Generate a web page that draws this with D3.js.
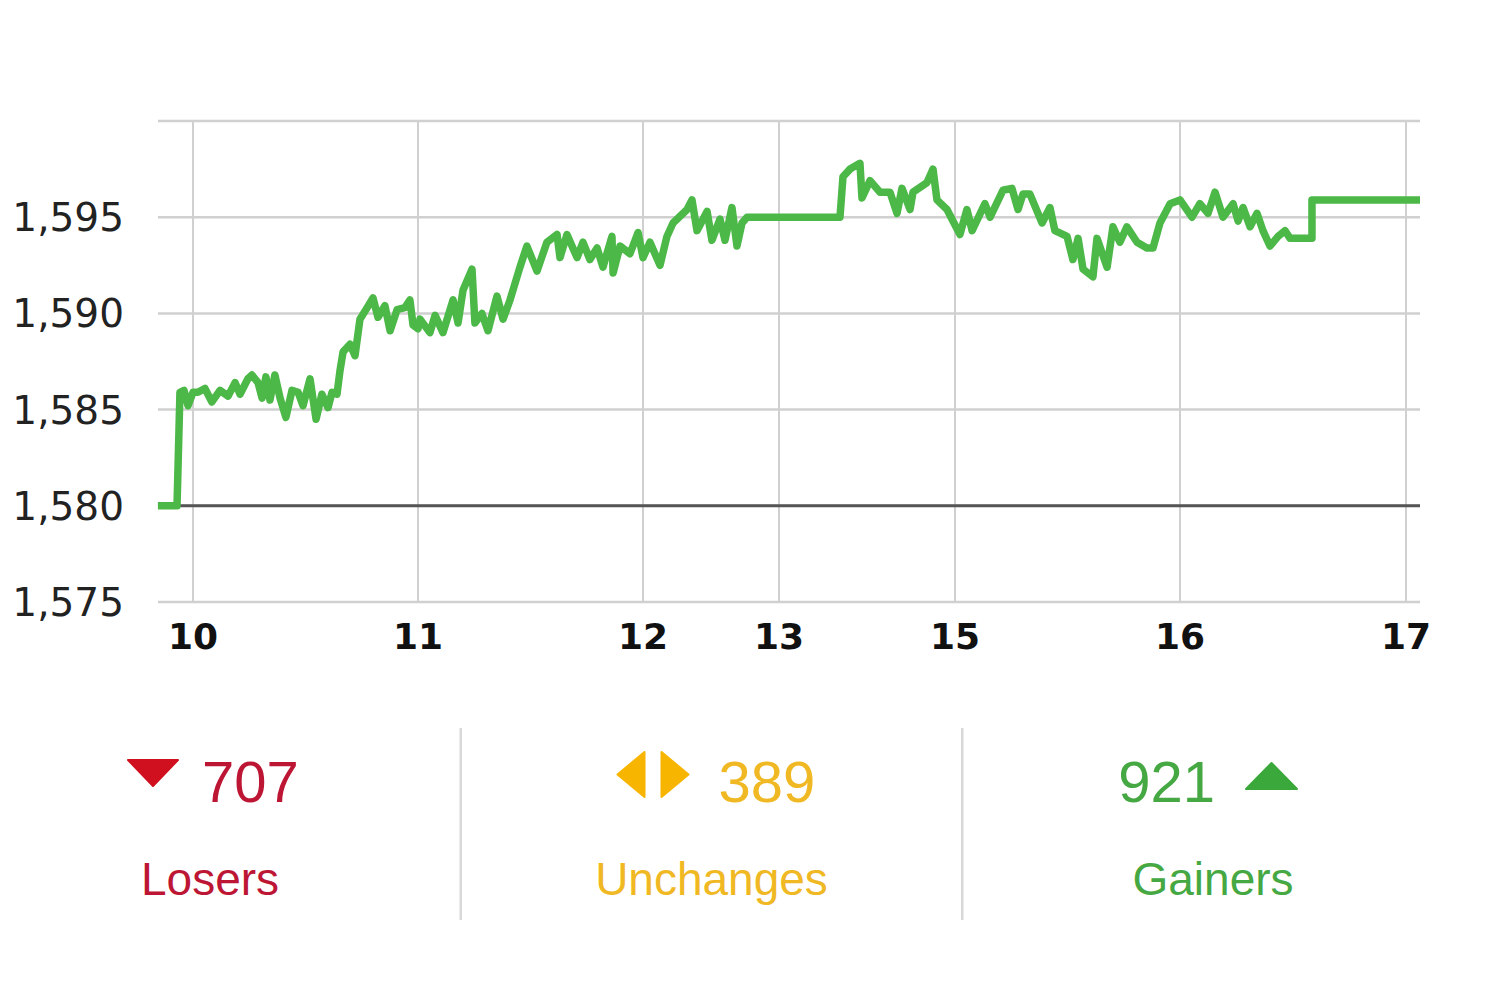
<!DOCTYPE html>
<html>
<head>
<meta charset="utf-8">
<script src="https://cdn.jsdelivr.net/npm/d3@7"></script>
<style>
  html, body { margin: 0; padding: 0; background: #fff; }
  svg { display: block; }
</style>
</head>
<body>
<div id="chart"></div>
<script>
// Intraday index (hours, price)
const times = [
  9.844, 9.929, 9.942, 9.960, 9.978, 10.000, 10.022, 10.053, 10.084, 10.120,
  10.156, 10.187, 10.209, 10.244, 10.262, 10.289, 10.307, 10.324, 10.342, 10.364,
  10.387, 10.413, 10.440, 10.467, 10.489, 10.520, 10.547, 10.573, 10.600, 10.618,
  10.640, 10.653, 10.667, 10.698, 10.720, 10.742, 10.769, 10.800, 10.822, 10.853,
  10.876, 10.907, 10.942, 10.964, 10.978, 11.000,
  11.009, 11.053, 11.076, 11.111, 11.156, 11.178, 11.200, 11.240, 11.253, 11.284,
  11.311, 11.351, 11.378, 11.409, 11.453, 11.484, 11.529, 11.573, 11.618, 11.631,
  11.662, 11.707, 11.733, 11.764, 11.796, 11.822, 11.862, 11.867, 11.898, 11.942,
  11.978, 12.000, 12.051, 12.125, 12.176, 12.221, 12.324,
  12.360, 12.397, 12.471, 12.507, 12.566, 12.603, 12.654, 12.691, 12.728, 12.765,
  13.693, 13.727, 13.807, 13.920, 13.943, 14.034, 14.148, 14.261, 14.341, 14.398,
  14.489, 14.523, 14.682, 14.750, 14.795, 14.909,
  15.022, 15.053, 15.076, 15.133, 15.156, 15.213, 15.253, 15.280, 15.302, 15.333,
  15.387, 15.422, 15.444, 15.498, 15.524, 15.547, 15.569, 15.613, 15.631, 15.676,
  15.702, 15.733, 15.764, 15.809, 15.853, 15.880, 15.911, 15.956, 16.000,
  16.053, 16.088, 16.124, 16.155, 16.190, 16.235, 16.257, 16.279, 16.310, 16.341,
  16.367, 16.398, 16.434, 16.465, 16.487, 16.584, 16.584, 17.062
];
const prices = [
  1580.0, 1580.0, 1585.9, 1586.0, 1585.2, 1585.9, 1585.9, 1586.1, 1585.4, 1586.0,
  1585.7, 1586.4, 1585.8, 1586.6, 1586.8, 1586.4, 1585.6, 1586.7, 1585.5, 1586.8,
  1585.6, 1584.6, 1586.0, 1585.9, 1585.2, 1586.6, 1584.5, 1585.8, 1585.1, 1585.9,
  1585.8, 1587.0, 1588.0, 1588.4, 1587.8, 1589.7, 1590.2, 1590.8, 1589.8, 1590.4,
  1589.1, 1590.2, 1590.3, 1590.7, 1589.4, 1589.2,
  1589.7, 1589.0, 1589.9, 1589.0, 1590.7, 1589.5, 1591.2, 1592.3, 1589.5, 1590.0,
  1589.1, 1590.9, 1589.7, 1590.7, 1592.4, 1593.5, 1592.2, 1593.7, 1594.1, 1592.9,
  1594.1, 1592.9, 1593.7, 1592.8, 1593.4, 1592.4, 1594.0, 1592.1, 1593.5, 1593.1,
  1594.2, 1592.9, 1593.7, 1592.5, 1594.0, 1594.7, 1595.4,
  1595.9, 1594.3, 1595.3, 1593.8, 1594.9, 1593.8, 1595.5, 1593.5, 1594.7, 1595.0,
  1595.0, 1597.1, 1597.5, 1597.8, 1596.0, 1596.9, 1596.3, 1596.3, 1595.2, 1596.5,
  1595.4, 1596.3, 1596.8, 1597.5, 1595.9, 1595.4,
  1594.1, 1595.4, 1594.3, 1595.7, 1595.0, 1596.4, 1596.5, 1595.4, 1596.2, 1596.2,
  1594.7, 1595.5, 1594.3, 1594.0, 1592.8, 1593.9, 1592.3, 1591.9, 1593.9, 1592.4,
  1594.5, 1593.7, 1594.5, 1593.7, 1593.4, 1593.4, 1594.7, 1595.7, 1595.9,
  1595.0, 1595.7, 1595.2, 1596.3, 1595.0, 1595.7, 1594.8, 1595.5, 1594.5, 1595.2,
  1594.3, 1593.5, 1594.0, 1594.3, 1593.9, 1593.9, 1595.9, 1595.9
];
const prevClose = 1580;

// Axes
const yTicks = [1575, 1580, 1585, 1590, 1595, 1600];
const xTickHours = [10, 11, 12, 13, 15, 16, 17];
const xTickLabels = ['10', '11', '12', '13', '15', '16', '17'];

// Market breadth
const breadthLabels = ['Losers', 'Unchanges', 'Gainers'];
const breadthCounts = [707, 389, 921];

// Layout
const W = 1500, H = 999;
const plot = { left: 158, right: 1420, top: 121, bottom: 602 };
// screen position of every hour tick (lunch break is squeezed)
const xStops = [193, 418, 643, 779, 955, 1180, 1406];

const colors = {
  grid: '#d0d0d0',
  base: '#555',
  line: '#4cb848',
  Losers: { icon: '#d0101e', text: '#bd1634' },
  Unchanges: { icon: '#f7b500', text: '#f0b823' },
  Gainers: { icon: '#3aa83a', text: '#45a843' }
};

const svg = d3.select('#chart')
  .append('svg')
  .attr('width', W)
  .attr('height', H);

// Scales
const x = d3.scaleLinear()
  .domain(xTickHours)
  .range(xStops);

const y = d3.scaleLinear()
  .domain([1575, 1600])
  .range([plot.bottom, plot.top]);

// Horizontal grid
svg.append('g')
  .selectAll('line')
  .data(yTicks)
  .join('line')
  .attr('x1', plot.left)
  .attr('x2', plot.right)
  .attr('y1', d => y(d))
  .attr('y2', d => y(d))
  .attr('stroke', colors.grid)
  .attr('stroke-width', 2.5);

// Vertical grid
svg.append('g')
  .selectAll('line')
  .data(xTickHours)
  .join('line')
  .attr('x1', d => x(d))
  .attr('x2', d => x(d))
  .attr('y1', plot.top)
  .attr('y2', plot.bottom)
  .attr('stroke', colors.grid)
  .attr('stroke-width', 2);

// Y labels
svg.append('g')
  .selectAll('text')
  .data(yTicks.filter(d => d < 1600))
  .join('text')
  .attr('x', 124)
  .attr('y', d => y(d))
  .attr('dy', '0.36em')
  .attr('text-anchor', 'end')
  .attr('font-family', 'DejaVu Sans, Verdana, sans-serif')
  .attr('font-size', 39)
  .attr('fill', '#222')
  .text(d => d3.format(',')(d));

// X labels
svg.append('g')
  .selectAll('text')
  .data(xTickHours)
  .join('text')
  .attr('x', d => x(d))
  .attr('y', 649)
  .attr('text-anchor', 'middle')
  .attr('font-family', 'DejaVu Sans, Verdana, sans-serif')
  .attr('font-weight', 'bold')
  .attr('font-size', 36)
  .attr('fill', '#111')
  .text((d, i) => xTickLabels[i]);

// Previous close line
svg.append('line')
  .attr('x1', plot.left)
  .attr('x2', plot.right)
  .attr('y1', y(prevClose))
  .attr('y2', y(prevClose))
  .attr('stroke', colors.base)
  .attr('stroke-width', 3);

// Index line
const line = d3.line()
  .x(d => x(d[0]))
  .y(d => y(d[1]));

svg.append('path')
  .datum(d3.zip(times, prices))
  .attr('d', line)
  .attr('fill', 'none')
  .attr('stroke', colors.line)
  .attr('stroke-width', 7.5)
  .attr('stroke-linejoin', 'round');

// Breadth panel
const col = d3.scalePoint()
  .domain(breadthLabels)
  .range([210, 1213]);

const step = col.step();
svg.append('g')
  .selectAll('line')
  .data(breadthLabels.slice(1))
  .join('line')
  .attr('x1', d => col(d) - step / 2)
  .attr('x2', d => col(d) - step / 2)
  .attr('y1', 728)
  .attr('y2', 920)
  .attr('stroke', '#d8d8d8')
  .attr('stroke-width', 2.5);

const font = 'Liberation Sans, Arial, Helvetica, sans-serif';
const cells = svg.append('g')
  .selectAll('g')
  .data(breadthLabels)
  .join('g')
  .attr('transform', d => `translate(${col(d)},0)`);

// Label under the count
cells.append('text')
  .attr('y', 895)
  .attr('text-anchor', 'middle')
  .attr('font-family', font)
  .attr('font-size', 46)
  .attr('fill', d => colors[d].text)
  .text(d => d);

// Count + icon
cells.each(function (d, i) {
  const g = d3.select(this);
  const c = colors[d];
  if (d === 'Losers') {
    g.append('text')
      .attr('x', -8).attr('y', 802)
      .attr('font-family', font).attr('font-size', 58)
      .attr('fill', c.text).text(breadthCounts[i]);
    g.append('path')
      .attr('d', 'M-82,760 L-32,760 L-57,786 Z')
      .attr('fill', c.icon).attr('stroke', c.icon)
      .attr('stroke-width', 2).attr('stroke-linejoin', 'round');
  } else if (d === 'Unchanges') {
    g.append('text')
      .attr('x', 7).attr('y', 802)
      .attr('font-family', font).attr('font-size', 58)
      .attr('fill', c.text).text(breadthCounts[i]);
    g.append('path')
      .attr('d', 'M-67,752 L-67,797 L-94,774.5 Z M-50,752 L-50,797 L-23,774.5 Z')
      .attr('fill', c.icon).attr('stroke', c.icon)
      .attr('stroke-width', 2).attr('stroke-linejoin', 'round');
  } else {
    g.append('text')
      .attr('x', 2).attr('y', 802)
      .attr('text-anchor', 'end')
      .attr('font-family', font).attr('font-size', 58)
      .attr('fill', c.text).text(breadthCounts[i]);
    g.append('path')
      .attr('d', 'M33,789 L84,789 L58.5,763 Z')
      .attr('fill', c.icon).attr('stroke', c.icon)
      .attr('stroke-width', 2).attr('stroke-linejoin', 'round');
  }
});
</script>
</body>
</html>
